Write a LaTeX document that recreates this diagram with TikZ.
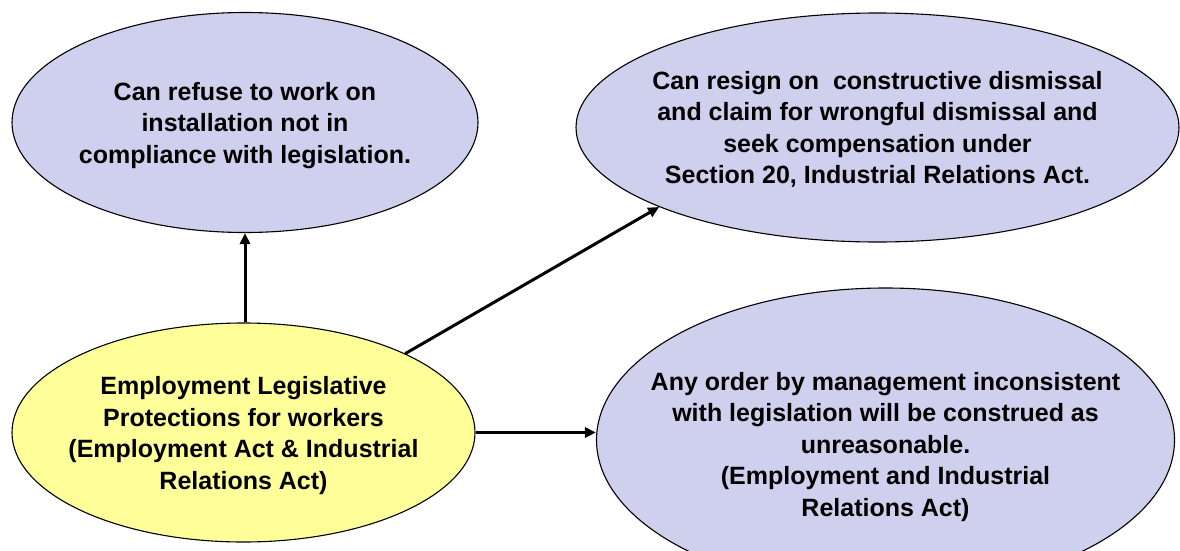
\documentclass[tikz,border=0pt]{standalone}
\usepackage{fontspec}
\setmainfont{Liberation Sans}
\usetikzlibrary{shapes.geometric,arrows.meta}
\definecolor{lav}{RGB}{207,208,238}
\definecolor{yel}{RGB}{255,255,153}
\tikzset{
  bubble/.style={ellipse, draw=black, line width=1.1pt, inner sep=0pt},
  txt/.style={align=center, inner sep=0pt, font=\bfseries\fontsize{25}{31.5}\selectfont},
  conn/.style={line width=3pt, -{Triangle[length=11pt,width=10pt]}}
}
\begin{document}
\begin{tikzpicture}[x=1pt,y=-1pt]
\useasboundingbox (0,0) rectangle (1180,551);
\clip (0,0) rectangle (1180,551);
\fill[white] (0,0) rectangle (1180,551);
\node[bubble, fill=lav, minimum width=466pt, minimum height=220pt] (tl) at (245,122.5) {};
\node[txt] (tlt) at ([yshift=-3pt]tl.center)
  {Can refuse to work on\\installation not in\\compliance with legislation.};
\node[bubble, fill=lav, minimum width=603pt, minimum height=229pt] (tr) at (877.5,127.5) {};
\node[txt] (trt) at ([yshift=-2pt]tr.center)
  {Can resign on\ \ constructive dismissal\\and claim for wrongful dismissal and\\seek compensation under\\Section 20, Industrial Relations Act.};
\node[bubble, fill=yel, minimum width=463pt, minimum height=219pt] (yl) at (243.5,432.5) {};
\node[txt] (ylt) at ([yshift=-3pt]yl.center)
  {Employment Legislative\\Protections for workers\\(Employment Act \& Industrial\\Relations Act)};
\node[bubble, fill=lav, minimum width=578pt, minimum height=304pt] (br) at (885.5,440) {};
\node[txt] (brt) at ([yshift=-7pt]br.center)
  {Any order by management inconsistent\\with legislation will be construed as\\unreasonable.\\(Employment and Industrial\\Relations Act)};
\draw[conn] (yl.north -| tl.south) -- (tl.south);
\draw[conn] (yl.26.1) -- (tr.200.8);
\draw[conn] (yl.east) -- (yl.east -| br.west);
\end{tikzpicture}
\end{document}
